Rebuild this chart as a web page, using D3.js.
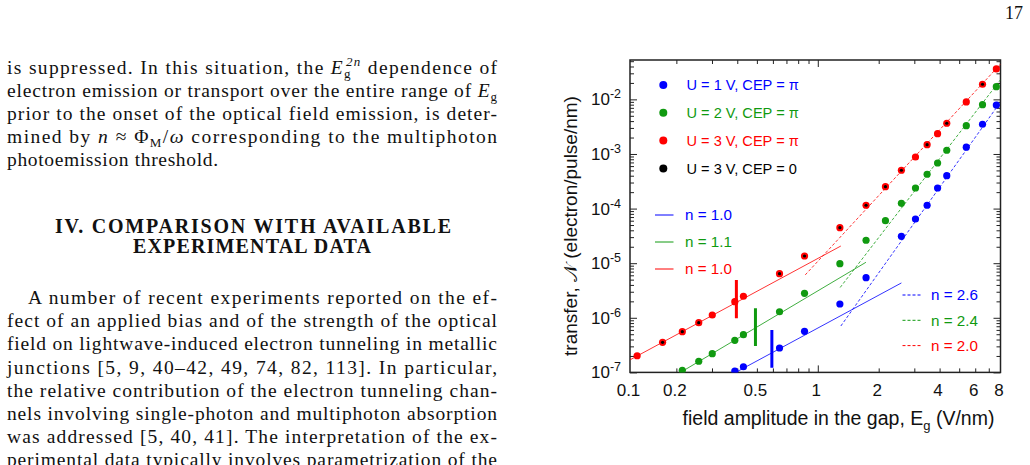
<!DOCTYPE html>
<html>
<head>
<meta charset="utf-8">
<script src="https://cdn.jsdelivr.net/npm/d3@7"></script>
<style>
  body { margin: 0; background: #fff; }
  svg { display: block; }
</style>
</head>
<body>
<script>
// field amplitude in the gap (V/nm), shared by all series
const fieldValues = [0.128, 0.171, 0.214, 0.258, 0.301, 0.389, 0.429, 0.647, 0.860, 1.286,
                     1.732, 2.16, 2.59, 3.04, 3.47, 3.91, 4.34, 5.42, 6.52, 7.63];

// transfer (electron/pulse/nm)
const blueValues  = [null, null, null, null, null, 1.06e-7, 1.27e-7, 2.80e-7, 5.66e-7, 1.79e-6,
                     5.42e-6, null, 3.11e-5, 6.45e-5, 1.15e-4, 2.38e-4, 4.01e-4, 1.33e-3, 3.50e-3, 7.89e-3];
const greenValues = [null, null, 1.09e-7, 1.60e-7, 2.20e-7, 3.87e-7, 4.90e-7, 1.29e-6, 2.81e-6, 9.79e-6,
                     2.63e-5, 6.0e-5, 1.25e-4, 2.38e-4, 4.25e-4, 6.84e-4, 1.17e-3, 3.30e-3, 8.0e-3, 1.71e-2];
const redValues   = [2.02e-7, 3.56e-7, 5.56e-7, 8.13e-7, 1.125e-6, 1.97e-6, 2.48e-6, 6.42e-6, 1.355e-5, 4.47e-5,
                     1.15e-4, 2.52e-4, 5.03e-4, 8.81e-4, 1.48e-3, 2.35e-3, 3.65e-3, 8.96e-3, 1.89e-2, 3.61e-2];
const blackValues = [null, 3.56e-7, 5.56e-7, 8.13e-7, null, null, null, 6.42e-6, 1.355e-5, 4.47e-5,
                     1.15e-4, 2.52e-4, 5.03e-4, null, 1.48e-3, null, 3.65e-3, null, 1.89e-2, null];

const seriesNames  = ["U = 1 V, CEP = \u03c0", "U = 2 V, CEP = \u03c0", "U = 3 V, CEP = \u03c0", "U = 3 V, CEP = 0"];
const seriesColors = ["#0000ff", "#109a10", "#ff0000", "#000000"];

// power-law fits  N = a * E^(2n)
const fitColor = ["#0000ff", "#109a10", "#ff0000", "#0000ff", "#109a10", "#ff0000"];
const fitN     = [1.0, 1.1, 1.0, 2.6, 2.4, 2.0];
const fitA     = [6.48e-7, 3.11e-6, 1.22e-5, 1.807e-7, 1.057e-6, 1.08e-5];
const fitFrom  = [0.393, 0.21, 0.118, 1.30, 1.29, 0.867];
const fitTo    = [2.59, 1.73, 1.30, 8, 8, 8];
const fitDash  = [false, false, false, true, true, true];

// vertical markers
const barColor = ["#ff0000", "#109a10", "#0000ff"];
const barX     = [0.396, 0.492, 0.593];
const barLow   = [9.8e-7, 3.05e-7, 1.22e-7];
const barHigh  = [4.92e-6, 1.49e-6, 5.98e-7];

const xTickLabels = [0.1, 0.2, 0.5, 1, 2, 4, 6, 8];
const xMinor = [0.2, 0.3, 0.4, 0.5, 0.6, 0.7, 0.8, 0.9, 2, 3, 4, 5, 6, 7];
const xMajor = [1];
const yExponents = [-7, -6, -5, -4, -3, -2];

const svg = d3.select("body").append("svg")
  .attr("width", 1030)
  .attr("height", 465);

// ---------- page text ----------
const serif = "'Liberation Serif', 'Times New Roman', serif";

function addLine(segs, x, yb, len, opts) {
  opts = opts || {};
  const t = svg.append("text")
    .attr("x", x).attr("y", yb)
    .attr("font-family", serif)
    .attr("font-size", opts.size || 19.5)
    .attr("font-weight", opts.bold ? "bold" : null)
    .attr("fill", "#111");
  if (len) t.attr("textLength", len).attr("lengthAdjust", "spacing");
  let off = 0;
  segs.forEach(function (s) {
    if (typeof s === "string") s = { t: s };
    let target = 0, fs = null;
    if (s.k === "sub") { target = 4; fs = 13; }
    if (s.k === "sup") { target = -8; fs = 13; }
    const sp = t.append("tspan").text(s.t);
    if (target - off !== 0) sp.attr("dy", target - off);
    off = target;
    if (fs) sp.attr("font-size", fs);
    if (s.i) sp.attr("font-style", "italic");
    if (s.dx) sp.attr("dx", s.dx);
  });
  return t;
}

addLine(["is suppressed. In this situation, the ", { t: "E", i: true }, { t: "g", k: "sub" },
         { t: "2n", k: "sup", i: true, dx: -6 }, { t: " dependence of" }], 7, 74, 490);
addLine(["electron emission or transport over the entire range of ", { t: "E", i: true }, { t: "g", k: "sub" }], 7, 97, 490);
addLine(["prior to the onset of the optical field emission, is deter-"], 7, 120, 490);
addLine(["mined by ", { t: "n", i: true }, " \u2248 \u03a6", { t: "M", k: "sub" }, { t: "/" }, { t: "\u03c9", i: true },
         " corresponding to the multiphoton"], 7, 143, 490);
addLine(["photoemission threshold."], 7, 165.5, 211);

addLine(["IV.  COMPARISON WITH AVAILABLE"], 55, 233, 396, { bold: true, size: 20 });
addLine(["EXPERIMENTAL DATA"], 133, 253, 238, { bold: true, size: 20 });

const para = [
  "A number of recent experiments reported on the ef-",
  "fect of an applied bias and of the strength of the optical",
  "field on lightwave-induced electron tunneling in metallic",
  "junctions [5, 9, 40\u201342, 49, 74, 82, 113].  In particular,",
  "the relative contribution of the electron tunneling chan-",
  "nels involving single-photon and multiphoton absorption",
  "was addressed [5, 40, 41].  The interpretation of the ex-",
  "perimental data typically involves parametrization of the"
];
para.forEach(function (line, i) {
  const x0 = i === 0 ? 28 : 7;
  addLine([line], x0, 304 + i * 23.2, 497 - x0);
});

svg.append("text")
  .attr("x", 1023).attr("y", 19)
  .attr("text-anchor", "end")
  .attr("font-family", serif).attr("font-size", 18)
  .attr("fill", "#111")
  .text("17");

// ---------- chart ----------
const sans = "'Liberation Sans', Arial, sans-serif";
const plotLeft = 630, plotRight = 1000.5, plotTop = 60, plotBottom = 372.4;

const x = d3.scaleLog().domain([0.118, 8]).range([plotLeft, plotRight]);
const y = d3.scaleLog().domain([1e-7, 0.0526]).range([plotBottom, plotTop]);

svg.append("clipPath").attr("id", "plotclip")
  .append("rect").attr("x", plotLeft).attr("y", plotTop)
  .attr("width", plotRight - plotLeft).attr("height", plotBottom - plotTop);

// y minor ticks: 2..9 in each decade
const yMinor = [];
yExponents.forEach(function (e) {
  for (let k = 2; k <= 9; k++) {
    const v = k * Math.pow(10, e);
    if (v <= y.domain()[1]) yMinor.push(v);
  }
});
const yMajor = yExponents.map(function (e) { return Math.pow(10, e); });

function tickAxes(vals, len) {
  const g = svg.append("g").attr("class", "ticks");
  g.append("g").attr("transform", "translate(0," + plotBottom + ")")
    .call(d3.axisBottom(x).tickValues(vals.x).tickSize(-len).tickFormat(""));
  g.append("g").attr("transform", "translate(0," + plotTop + ")")
    .call(d3.axisTop(x).tickValues(vals.x).tickSize(-len).tickFormat(""));
  g.append("g").attr("transform", "translate(" + plotLeft + ",0)")
    .call(d3.axisLeft(y).tickValues(vals.y).tickSize(-len).tickFormat(""));
  g.append("g").attr("transform", "translate(" + plotRight + ",0)")
    .call(d3.axisRight(y).tickValues(vals.y).tickSize(-len).tickFormat(""));
  g.selectAll(".domain").remove();
  g.selectAll("line").attr("stroke", "#222").attr("stroke-width", 1);
}
tickAxes({ x: xMinor, y: yMinor }, 4);
tickAxes({ x: xMajor, y: yMajor }, 7);

svg.append("rect")
  .attr("x", plotLeft).attr("y", plotTop)
  .attr("width", plotRight - plotLeft).attr("height", plotBottom - plotTop)
  .attr("fill", "none").attr("stroke", "#222").attr("stroke-width", 1.5);

// x tick labels
svg.append("g").selectAll("text")
  .data(xTickLabels)
  .enter()
    .append("text")
    .attr("x", function (d) { return x(Math.max(d, x.domain()[0])) - 1.5; })
    .attr("y", 396)
    .attr("text-anchor", "middle")
    .attr("font-family", sans).attr("font-size", 17)
    .attr("fill", "#111")
    .text(function (d) { return d; });

// y tick labels 10^e
const yl = svg.append("g").selectAll("text")
  .data(yExponents)
  .enter()
    .append("text")
    .attr("x", 621)
    .attr("y", function (d) { return y(Math.pow(10, d)) + 6; })
    .attr("text-anchor", "end")
    .attr("font-family", sans).attr("font-size", 17)
    .attr("fill", "#111");
yl.append("tspan").text("10");
yl.append("tspan").attr("dy", -7).attr("font-size", 12.5)
  .text(function (d) { return "-" + Math.abs(d); });

// axis titles
const xt = svg.append("text")
  .attr("x", 838.5).attr("y", 425)
  .attr("text-anchor", "middle")
  .attr("font-family", sans).attr("font-size", 19.5)
  .attr("fill", "#111");
xt.append("tspan").text("field amplitude in the gap, E");
xt.append("tspan").attr("dy", 5).attr("font-size", 13).text("g");
xt.append("tspan").attr("dy", -5).text(" (V/nm)");

const ytl = svg.append("text")
  .attr("transform", "translate(570,226) rotate(-90)")
  .attr("text-anchor", "middle")
  .attr("dy", "0.35em")
  .attr("font-family", sans).attr("font-size", 19)
  .attr("fill", "#111");
ytl.append("tspan").text("transfer, ");
ytl.append("tspan").text("\ud835\udca9");
ytl.append("tspan").text(" (electron/pulse/nm)");

// fit lines
const plot = svg.append("g").attr("clip-path", "url(#plotclip)");
const line = d3.line()
  .x(function (d) { return x(d[0]); })
  .y(function (d) { return y(d[1]); });

fitN.forEach(function (n, i) {
  const pts = [fitFrom[i], fitTo[i]].map(function (e) {
    return [e, fitA[i] * Math.pow(e, 2 * n)];
  });
  plot.append("path")
    .attr("d", line(pts))
    .attr("fill", "none")
    .attr("stroke", fitColor[i])
    .attr("stroke-opacity", 0.8)
    .attr("stroke-width", 1)
    .attr("stroke-dasharray", fitDash[i] ? "3,2" : null);
});

// vertical markers
barX.forEach(function (bx, i) {
  plot.append("line")
    .attr("x1", x(bx)).attr("x2", x(bx))
    .attr("y1", y(barLow[i])).attr("y2", y(barHigh[i]))
    .attr("stroke", barColor[i])
    .attr("stroke-width", 3);
});

// data points
const allSeries = [blueValues, greenValues, redValues, blackValues];
allSeries.forEach(function (vals, s) {
  const pts = fieldValues.map(function (f, i) { return [f, vals[i]]; })
    .filter(function (d) { return d[1] !== null; });
  plot.selectAll(null)
    .data(pts)
    .enter()
      .append("circle")
      .attr("cx", function (d) { return x(d[0]); })
      .attr("cy", function (d) { return y(d[1]); })
      .attr("r", s === 3 ? 1.6 : 3.6)
      .attr("fill", seriesColors[s]);
});

// legend: series
seriesNames.forEach(function (name, i) {
  const cy = 85 + i * 27.8;
  svg.append("circle").attr("cx", 663.3).attr("cy", cy).attr("r", 4).attr("fill", seriesColors[i]);
  svg.append("text")
    .attr("x", 686.5).attr("y", cy + 5.3)
    .attr("font-family", sans).attr("font-size", 14.6)
    .attr("fill", seriesColors[i])
    .text(name);
});

// legend: fits
const solidIdx = [0, 1, 2], dashIdx = [3, 4, 5];
solidIdx.forEach(function (k, i) {
  const cy = 215 + i * 27;
  svg.append("line").attr("x1", 655).attr("x2", 673.5).attr("y1", cy).attr("y2", cy)
    .attr("stroke", fitColor[k]).attr("stroke-width", 1);
  svg.append("text")
    .attr("x", 685).attr("y", cy + 5.4)
    .attr("font-family", sans).attr("font-size", 15.2)
    .attr("fill", fitColor[k])
    .text("n = " + fitN[k].toFixed(1));
});
dashIdx.forEach(function (k, i) {
  const cy = 295 + i * 25.3;
  svg.append("line").attr("x1", 902.5).attr("x2", 920.5).attr("y1", cy).attr("y2", cy)
    .attr("stroke", fitColor[k]).attr("stroke-width", 1).attr("stroke-dasharray", "3,2");
  svg.append("text")
    .attr("x", 931).attr("y", cy + 5.4)
    .attr("font-family", sans).attr("font-size", 15.2)
    .attr("fill", fitColor[k])
    .text("n = " + fitN[k].toFixed(1));
});
</script>
</body>
</html>
